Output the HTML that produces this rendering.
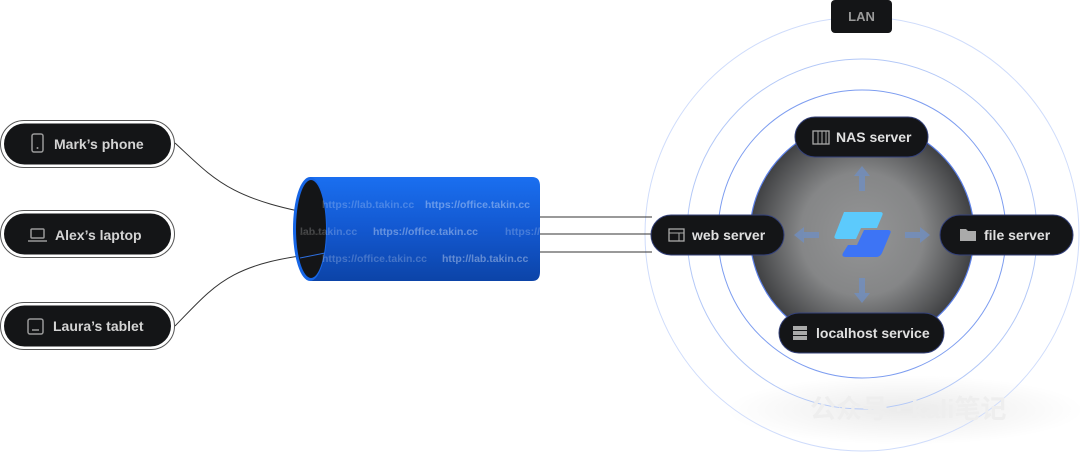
<!DOCTYPE html>
<html><head><meta charset="utf-8"><style>
html,body{margin:0;padding:0;background:#fff;}
body{width:1080px;height:453px;overflow:hidden;position:relative;font-family:"Liberation Sans",sans-serif;}
svg text{font-family:"Liberation Sans","Noto Sans CJK SC",sans-serif;font-weight:bold;}
</style></head><body>
<svg width="1080" height="453" viewBox="0 0 1080 453" xmlns="http://www.w3.org/2000/svg">
<defs>
<radialGradient id="gc" cx="0.5" cy="0.5" r="0.5">
<stop offset="0" stop-color="#949596"/><stop offset="0.55" stop-color="#858687"/><stop offset="1" stop-color="#404143"/>
</radialGradient>
<linearGradient id="cyl" x1="0" y1="0" x2="0" y2="1">
<stop offset="0" stop-color="#1a6ff0"/><stop offset="0.5" stop-color="#1358d0"/><stop offset="1" stop-color="#0c44a8"/>
</linearGradient>
<linearGradient id="glow" x1="0" y1="0" x2="1" y2="0">
<stop offset="0" stop-color="#222"/><stop offset="0.45" stop-color="#3b8cff"/><stop offset="1" stop-color="#222"/>
</linearGradient>
<radialGradient id="sh" cx="0.5" cy="0.5" r="0.5">
<stop offset="0" stop-color="#000" stop-opacity="0.08"/><stop offset="1" stop-color="#000" stop-opacity="0"/>
</radialGradient>
<clipPath id="cc"><rect x="300" y="178" width="240" height="103"/></clipPath>
</defs>
<ellipse cx="905" cy="410" rx="180" ry="35" fill="url(#sh)"/>
<!-- rings -->
<circle cx="862" cy="234" r="217" fill="none" stroke="#cfdcfb" stroke-width="1"/>
<circle cx="862" cy="234" r="175" fill="none" stroke="#b3c8f7" stroke-width="1"/>
<circle cx="862" cy="234" r="144" fill="none" stroke="#7d9df0" stroke-width="1"/>
<circle cx="862" cy="234" r="112" fill="url(#gc)" stroke="#5b7fe6" stroke-width="1.2"/>
<!-- LAN -->
<rect x="831" y="0" width="61" height="33" rx="4" fill="#141517"/>
<text x="861.5" y="21" font-size="13" fill="#9a9a9a" text-anchor="middle" font-weight="normal">LAN</text>
<!-- arrows -->
<g fill="#6f8fc4" opacity="0.75">
<polygon points="862,166 854,176 859,176 859,191 865,191 865,176 870,176"/>
<polygon points="862,303 854,293 859,293 859,278 865,278 865,293 870,293"/>
<polygon points="794,235 804,227 804,232 819,232 819,238 804,238 804,243"/>
<polygon points="930,235 920,227 920,232 905,232 905,238 920,238 920,243"/>
</g>
<!-- logo -->
<path d="M844,212 L880,212 Q884,212 882,216 L877,228 L861,228 L856,239 L838,239 Q833,239 835,235 Z" fill="#5ccafc"/>
<path d="M864,230 L888,230 Q892,230 890,234 L882,253 Q880,257 876,257 L846,257 Q841,257 843,253 L848,245 L857,245 Z" fill="#3d74f5"/>
<!-- left connections -->
<path d="M175,143 C215,180 230,200 325,216" fill="none" stroke="#333" stroke-width="1"/>
<path d="M175,326 C215,285 230,262 325,253" fill="none" stroke="#333" stroke-width="1"/>
<line x1="175" y1="234" x2="300" y2="234" stroke="url(#glow)" stroke-width="1.2"/>
<!-- cylinder -->
<path d="M310,177 L532,177 Q540,177 540,186 L540,272 Q540,281 532,281 L310,281 Z" fill="url(#cyl)"/>
<ellipse cx="310" cy="229" rx="17" ry="52" fill="#1766e6"/>
<ellipse cx="311" cy="229" rx="15" ry="49" fill="#141517"/>
<g clip-path="url(#cc)" font-size="10.5" fill="#ffffff">
<text x="322" y="208" opacity="0.22">https://lab.takin.cc</text>
<text x="425" y="208" opacity="0.35">https://office.takin.cc</text>
<text x="300" y="235" opacity="0.22">lab.takin.cc</text>
<text x="373" y="235" opacity="0.35">https://office.takin.cc</text>
<text x="505" y="235" opacity="0.22">https://</text>
<text x="322" y="262" opacity="0.22">https://office.takin.cc</text>
<text x="442" y="262" opacity="0.35">http://lab.takin.cc</text>
</g>
<line x1="300" y1="234" x2="325" y2="234" stroke="#333" stroke-width="1"/>
<path d="M300,258 L325,253" stroke="#2d6fe0" stroke-width="1"/>
<!-- right lines -->
<line x1="540" y1="217" x2="652" y2="217" stroke="#333" stroke-width="1"/>
<line x1="540" y1="234" x2="652" y2="234" stroke="#333" stroke-width="1"/>
<line x1="540" y1="252" x2="652" y2="252" stroke="#333" stroke-width="1"/>
<!-- left pills -->
<g>
<rect x="0.5" y="120.5" width="174" height="47" rx="23.5" fill="#fff" stroke="#555"/>
<rect x="4" y="123.5" width="167" height="41" rx="20.5" fill="#141517"/>
<rect x="32" y="134" width="11" height="18" rx="2" fill="none" stroke="#9a9a9a" stroke-width="1.5"/><circle cx="37.5" cy="148" r="1" fill="#9a9a9a"/>
<text x="54" y="149" font-size="14" fill="#d4d4d4">Mark’s phone</text>

<rect x="0.5" y="210.5" width="174" height="47" rx="23.5" fill="#fff" stroke="#555"/>
<rect x="4" y="213.5" width="167" height="41" rx="20.5" fill="#141517"/>
<rect x="31" y="229" width="13" height="9" rx="1" fill="none" stroke="#9a9a9a" stroke-width="1.5"/><line x1="28" y1="241" x2="47" y2="241" stroke="#9a9a9a" stroke-width="1.5"/>
<text x="55" y="240" font-size="14" fill="#d4d4d4">Alex’s laptop</text>

<rect x="0.5" y="302.5" width="174" height="47" rx="23.5" fill="#fff" stroke="#555"/>
<rect x="4" y="305.5" width="167" height="41" rx="20.5" fill="#141517"/>
<rect x="28" y="319" width="15" height="15" rx="2" fill="none" stroke="#9a9a9a" stroke-width="1.5"/><line x1="32" y1="330" x2="39" y2="330" stroke="#9a9a9a" stroke-width="1.5"/>
<text x="53" y="331" font-size="14" fill="#d4d4d4">Laura’s tablet</text>
</g>
<!-- right pills -->
<g font-size="14" fill="#e0e0e0">
<rect x="795" y="117" width="133" height="40" rx="20" fill="#141517" stroke="#34417a"/>
<rect x="813" y="131" width="16" height="13" fill="none" stroke="#aaa" stroke-width="1.3"/><line x1="818" y1="131" x2="818" y2="144" stroke="#aaa"/><line x1="822" y1="131" x2="822" y2="144" stroke="#aaa"/><line x1="826" y1="131" x2="826" y2="144" stroke="#aaa"/>
<text x="836" y="142" fill="#e0e0e0">NAS server</text>

<rect x="651" y="215" width="133" height="40" rx="20" fill="#141517" stroke="#34417a"/>
<rect x="669" y="229" width="15" height="12" fill="none" stroke="#aaa" stroke-width="1.3"/><line x1="669" y1="233" x2="684" y2="233" stroke="#aaa"/><line x1="679" y1="233" x2="679" y2="241" stroke="#aaa"/>
<text x="692" y="240" fill="#e0e0e0">web server</text>

<rect x="940" y="215" width="133" height="40" rx="20" fill="#141517" stroke="#34417a"/>
<path d="M960,229 h6 l2,2 h8 v10 h-16 z" fill="#aaa"/>
<text x="984" y="240" fill="#e0e0e0">file server</text>

<rect x="779" y="313" width="165" height="40" rx="20" fill="#141517" stroke="#34417a"/>
<rect x="793" y="326" width="14" height="4" fill="#aaa"/><rect x="793" y="331" width="14" height="4" fill="#aaa"/><rect x="793" y="336" width="14" height="4" fill="#aaa"/>
<text x="816" y="338" fill="#e0e0e0">localhost service</text>
</g>
<!-- watermark -->
<text x="810" y="418" font-size="26" fill="#eeeeee" font-weight="normal">公众号 · kali笔记</text>
</svg>
</body></html>
